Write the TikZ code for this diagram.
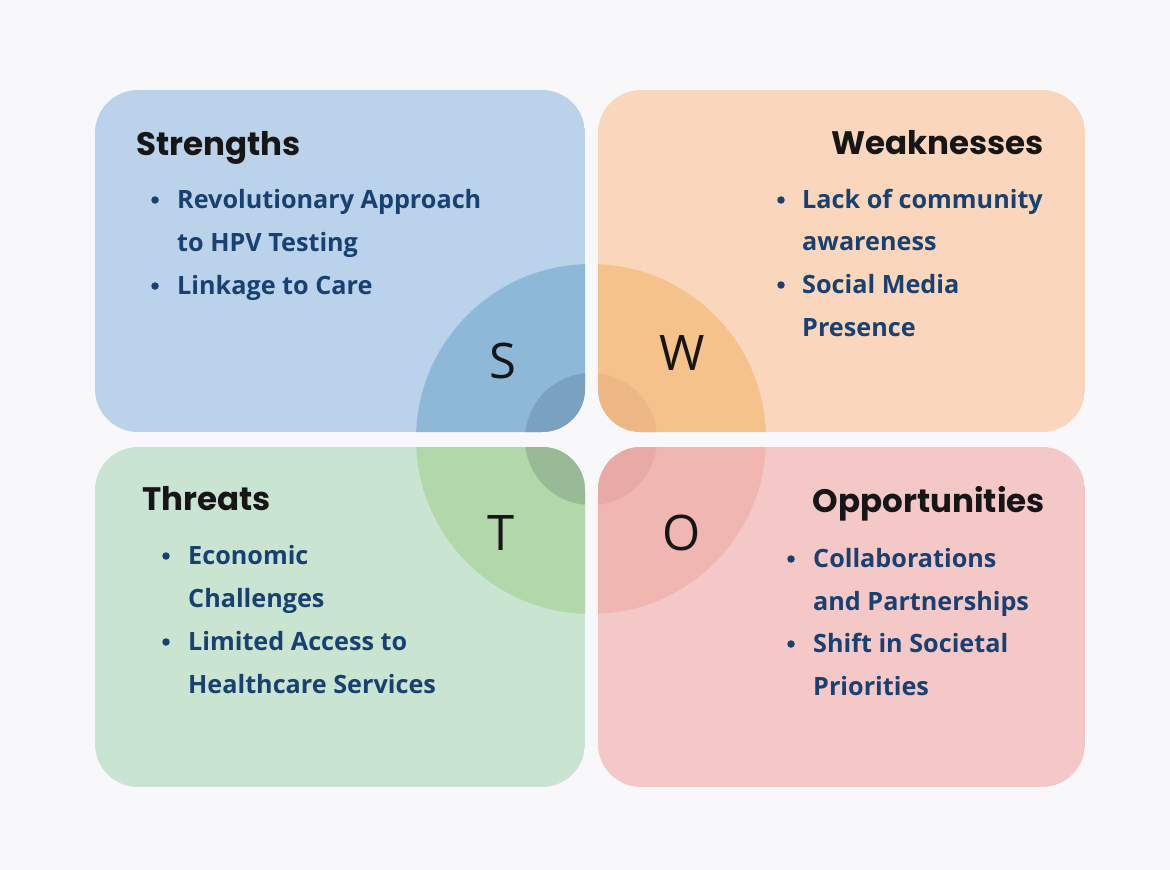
\documentclass[tikz,border=0pt]{standalone}
\usepackage{fontspec}
\setmainfont{Open Sans}
\newfontfamily\headfont{Poppins}
\newfontfamily\letterfont{Open Sans}

% quadrant palette
\definecolor{pagebg}{RGB}{248,248,250}
\definecolor{sbox}{RGB}{186,210,234}
\definecolor{souter}{RGB}{142,184,216}
\definecolor{sinner}{RGB}{122,162,192}
\definecolor{wbox}{RGB}{250,214,188}
\definecolor{wouter}{RGB}{245,194,140}
\definecolor{winner}{RGB}{238,184,134}
\definecolor{tbox}{RGB}{202,228,210}
\definecolor{touter}{RGB}{178,215,170}
\definecolor{tinner}{RGB}{152,186,150}
\definecolor{obox}{RGB}{245,200,200}
\definecolor{oouter}{RGB}{240,182,178}
\definecolor{oinner}{RGB}{232,170,166}
\definecolor{itemblue}{RGB}{24,64,112}
\definecolor{headblack}{RGB}{22,22,22}

\tikzset{
  heading/.style={inner sep=0pt, text=headblack, font=\headfont\bfseries\fontsize{32.5}{37}\selectfont},
  item/.style={inner sep=0pt, anchor=base west, text=itemblue, font=\bfseries\fontsize{25.2}{29}\selectfont},
  letter/.style={inner sep=0pt, anchor=base, text=headblack, font=\letterfont\fontsize{49}{56}\selectfont},
  dot/.style={circle, fill=itemblue, inner sep=0pt, minimum size=7.5pt},
}

\begin{document}
\begin{tikzpicture}[x=1pt,y=-1pt]
  % page
  \fill[pagebg] (0,0) rectangle (1170,870);
  \useasboundingbox (0,0) rectangle (1170,870);

  \coordinate (ctr) at (591,439);

  % each quadrant: rounded panel with the central rings clipped inside it
  \foreach \x/\y/\X/\Y/\c in {95/90/585/432/s, 598/90/1085/432/w, 95/447/585/787/t, 598/447/1085/787/o}{
    \begin{scope}
      \clip[rounded corners=43pt] (\x,\y) rectangle (\X,\Y);
      \fill[\c box] (\x,\y) rectangle (\X,\Y);
      \fill[\c outer] (ctr) circle[radius=175pt];
      \fill[\c inner] (ctr) circle[radius=66pt];
    \end{scope}
  }

  % quadrant letters
  \node[letter] (ls) at (503,378) {S};
  \node[letter] (lw) at (682,370) {W};
  \node[letter] (lt) at (501,550) {T};
  \node[letter] (lo) at (682,550) {O};

  % Strengths
  \node[heading, anchor=base west] (hs) at (136,155) {Strengths};
  \node[dot] (s1d) at (155,200) {};
  \node[item] (s1a) at (177,208) {Revolutionary Approach};
  \node[item] (s1b) at (177,251) {to HPV Testing};
  \node[dot] (s2d) at (155,286) {};
  \node[item] (s2a) at (177,294) {Linkage to Care};

  % Weaknesses
  \node[heading, anchor=base east] (hw) at (1044,154) {Weaknesses};
  \node[dot] (w1d) at (781,200) {};
  \node[item] (w1a) at (802,208) {Lack of community};
  \node[item] (w1b) at (802,250) {awareness};
  \node[dot] (w2d) at (781,285) {};
  \node[item] (w2a) at (802,293) {Social Media};
  \node[item] (w2b) at (802,336) {Presence};

  % Threats
  \node[heading, anchor=base west] (ht) at (142,510) {Threats};
  \node[dot] (t1d) at (166,556) {};
  \node[item] (t1a) at (188,564) {Economic};
  \node[item] (t1b) at (188,607) {Challenges};
  \node[dot] (t2d) at (166,642) {};
  \node[item] (t2a) at (188,650) {Limited Access to};
  \node[item] (t2b) at (188,693) {Healthcare Services};

  % Opportunities
  \node[heading, anchor=base east] (ho) at (1045,512) {Opportunities};
  \node[dot] (o1d) at (791,559) {};
  \node[item] (o1a) at (813,567) {Collaborations};
  \node[item] (o1b) at (813,610) {and Partnerships};
  \node[dot] (o2d) at (791,644) {};
  \node[item] (o2a) at (813,652) {Shift in Societal};
  \node[item] (o2b) at (813,695) {Priorities};
\end{tikzpicture}
\end{document}
